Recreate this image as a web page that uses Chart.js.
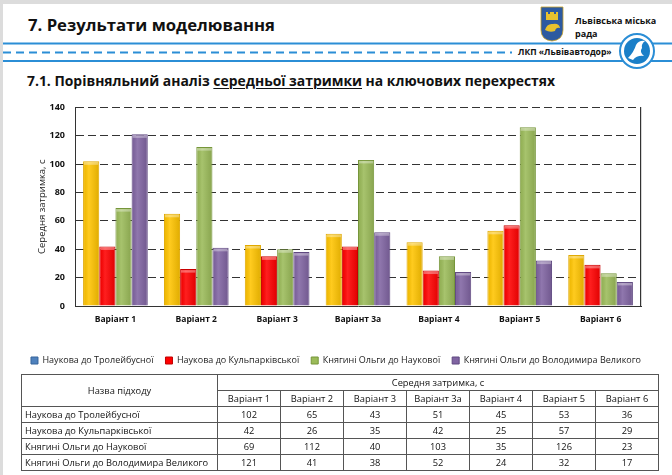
<!DOCTYPE html>
<html>
<head>
<meta charset="utf-8">
<script src="https://cdn.jsdelivr.net/npm/chart.js@4.4.0/dist/chart.umd.min.js"></script>
<style>
  body { margin: 0; width: 672px; height: 475px; background: #fff; overflow: hidden; position: relative; font-family: "Open Sans", sans-serif; color: #111; }
  #frameTop { position: absolute; left: 0; top: 0; width: 672px; height: 4px; background: #dcdcdc; }
  #frameLeft { position: absolute; left: 0; top: 0; width: 3px; height: 475px; background: #dcdcdc; }
  #deco { position: absolute; left: 0; top: 0; }
  #title { position: absolute; left: 28px; top: 13px; font-size: 16.7px; font-weight: bold; white-space: nowrap; }
  #subtitle { position: absolute; left: 27px; top: 71px; font-size: 13.9px; font-weight: bold; white-space: nowrap; }
  #subtitle u { text-decoration-thickness: 1px; text-underline-offset: 2px; }
  #city { position: absolute; left: 575px; top: 14px; font-size: 9px; font-weight: bold; line-height: 13px; white-space: nowrap; }
  #company { position: absolute; left: 516px; top: 46px; font-size: 8.6px; font-weight: bold; background: #fff; padding: 0 2px; white-space: nowrap; }
  #chartBox { position: absolute; left: 0; top: 92px; width: 672px; height: 283px; }
  #tbl { position: absolute; left: 21px; top: 374px; border-collapse: collapse; table-layout: fixed; width: 637px; border: 1.5px solid #444; font-size: 9.3px; color: #111; }
  #tbl th, #tbl td { border: 1px solid #555; padding: 0; text-align: center; font-weight: normal; height: 15px; line-height: 15px; white-space: nowrap; overflow: hidden; }
  #tbl td.name { text-align: left; padding-left: 3px; }
</style>
</head>
<body>
<div id="frameTop"></div>
<div id="frameLeft"></div>

<svg id="deco" width="672" height="92">
  <line x1="3" y1="43.5" x2="672" y2="43.5" stroke="#2b8ed6" stroke-width="2"/>
  <line x1="3" y1="52.5" x2="512" y2="52.5" stroke="#2b8ed6" stroke-width="2" stroke-dasharray="8 5"/>
  <line x1="3" y1="61" x2="672" y2="61" stroke="#2b8ed6" stroke-width="2"/>
  <!-- coat of arms -->
  <path d="M541 7 H563 V30 Q563 40 552 41 Q541 40 541 30 Z" fill="#2d5aa0" stroke="#c9a227" stroke-width="0.8"/>
  <path d="M546 20 V12 H548 V14 H550 V12 H554 V14 H556 V12 H558 V20 Z" fill="#e8c22e"/>
  <path d="M545 30 Q547 23 553 24 Q559 23 560 28 Q556 27 555 31 Q550 33 545 30 Z" fill="#e8c22e"/>
  <!-- company emblem -->
  <circle cx="637" cy="51" r="17" fill="#fff" stroke="#2b8ed6" stroke-width="2"/>
  <circle cx="637" cy="51" r="13" fill="#1a7fc8"/>
  <path d="M628 58 Q634 52 636 45 Q639 40 645 41 Q641 44 642 48 Q639 52 644 56 Q637 55 633 60 Z" fill="#fff"/>
</svg>

<div id="title">7. Результати моделювання</div>
<div id="city">Львівська міська<br>рада</div>
<div id="company">ЛКП «Львівавтодор»</div>
<div id="subtitle">7.1. Порівняльний аналіз <u>середньої затримки</u> на ключових перехрестях</div>

<div id="chartBox"><canvas id="delayChart"></canvas></div>
<table id="tbl"></table>

<script>
// data
const variants = ['Варіант 1', 'Варіант 2', 'Варіант 3', 'Варіант 3а', 'Варіант 4', 'Варіант 5', 'Варіант 6'];
const approaches = ['Наукова до Тролейбусної', 'Наукова до Кульпарківської', 'Княгині Ольги до Наукової', 'Княгині Ольги до Володимира Великого'];
const naukovaTroleibusna = [102, 65, 43, 51, 45, 53, 36];
const naukovaKulparkivska = [42, 26, 35, 42, 25, 57, 29];
const olgyNaukova = [69, 112, 40, 103, 35, 126, 23];
const olgyVolodymyra = [121, 41, 38, 52, 24, 32, 17];
const yTicks = [0, 20, 40, 60, 80, 100, 120, 140];

const seriesValues = [naukovaTroleibusna, naukovaKulparkivska, olgyNaukova, olgyVolodymyra];
const barColors = ['#ffc400', '#ff0000', '#9bbb59', '#8064a2'];
const barBorders = ['#e0a800', '#c80000', '#76963a', '#5f4880'];
// the legend on the slide shows a blue marker for the first series
const legendColors = ['#4f81bd', '#ff0000', '#9bbb59', '#8064a2'];
const legendBorders = ['#36649b', '#c00000', '#76963a', '#5f4880'];

// little bevel on each bar, like the office 3d style
const barShine = {
  id: 'barShine',
  afterDatasetsDraw(chart) {
    const ctx = chart.ctx;
    chart.data.datasets.forEach((ds, di) => {
      chart.getDatasetMeta(di).data.forEach(bar => {
        const w = bar.width;
        const left = bar.x - w / 2;
        const h = bar.base - bar.y;
        ctx.save();
        const g = ctx.createLinearGradient(left, 0, left + w, 0);
        g.addColorStop(0, 'rgba(0,0,0,0.06)');
        g.addColorStop(0.35, 'rgba(255,255,255,0.12)');
        g.addColorStop(1, 'rgba(0,0,0,0.12)');
        ctx.fillStyle = g;
        ctx.fillRect(left + 1, bar.y + 1, w - 2, h - 1);
        ctx.fillStyle = 'rgba(255,255,255,0.35)';
        ctx.fillRect(left + 1, bar.y + 1, w - 2, 2.5);
        ctx.restore();
      });
    });
  }
};

new Chart(document.getElementById('delayChart'), {
  type: 'bar',
  data: {
    labels: variants,
    datasets: seriesValues.map((vals, i) => ({
      label: approaches[i],
      data: vals,
      backgroundColor: barColors[i],
      borderColor: barBorders[i],
      borderWidth: 1,
      categoryPercentage: 0.8,
      barPercentage: 1.0
    }))
  },
  options: {
    responsive: true,
    maintainAspectRatio: false,
    animation: false,
    layout: { padding: { left: 0, right: 0, top: 10, bottom: 0 } },
    plugins: {
      tooltip: { enabled: false },
      legend: {
        position: 'bottom',
        labels: {
          boxWidth: 7,
          boxHeight: 7,
          padding: 12,
          color: '#222',
          font: { family: 'Open Sans', size: 9 },
          generateLabels(chart) {
            return Chart.defaults.plugins.legend.labels.generateLabels(chart).map((item, i) => ({
              ...item,
              fillStyle: legendColors[i],
              strokeStyle: legendBorders[i],
              lineWidth: 1
            }));
          }
        }
      }
    },
    scales: {
      x: {
        grid: { display: false, drawTicks: false },
        border: { display: true, color: '#333', width: 1 },
        ticks: { color: '#111', padding: 8, font: { family: 'Open Sans', size: 8.5, weight: 'bold' } },
        afterFit(s) { s.height = 38; }
      },
      y: {
        min: 0,
        max: 140,
        afterBuildTicks(s) { s.ticks = yTicks.map(v => ({ value: v })); },
        grid: {
          drawTicks: false,
          color: c => (c.tick && c.tick.value === 0) ? 'rgba(0,0,0,0)' : '#333',
          lineWidth: 1
        },
        border: { display: true, color: '#333', width: 1, dash: [8, 4] },
        ticks: { color: '#111', padding: 10, font: { family: 'Open Sans', size: 9, weight: 'bold' } },
        title: {
          display: true,
          text: 'Середня затримка, с',
          color: '#222',
          padding: { top: 37, bottom: 0 },
          font: { family: 'Open Sans', size: 9.5 }
        },
        afterFit(s) { s.width = 75; }
      },
      // empty right axis: gives the solid right edge of the plot frame
      yRight: {
        position: 'right',
        grid: { display: false },
        ticks: { display: false },
        border: { display: true, color: '#333', width: 1.2 },
        afterFit(s) { s.width = 31; }
      }
    }
  },
  plugins: [barShine]
});

// table under the chart, from the same arrays
let html = '<colgroup><col style="width:196px">' + variants.map(() => '<col style="width:63px">').join('') + '</colgroup>';
html += '<tr><th rowspan="2">Назва підходу</th><th colspan="' + variants.length + '">Середня затримка, с</th></tr>';
html += '<tr>' + variants.map(v => '<th>' + v + '</th>').join('') + '</tr>';
seriesValues.forEach((vals, i) => {
  html += '<tr><td class="name">' + approaches[i] + '</td>' + vals.map(v => '<td>' + v + '</td>').join('') + '</tr>';
});
document.getElementById('tbl').innerHTML = html;
</script>
</body>
</html>
